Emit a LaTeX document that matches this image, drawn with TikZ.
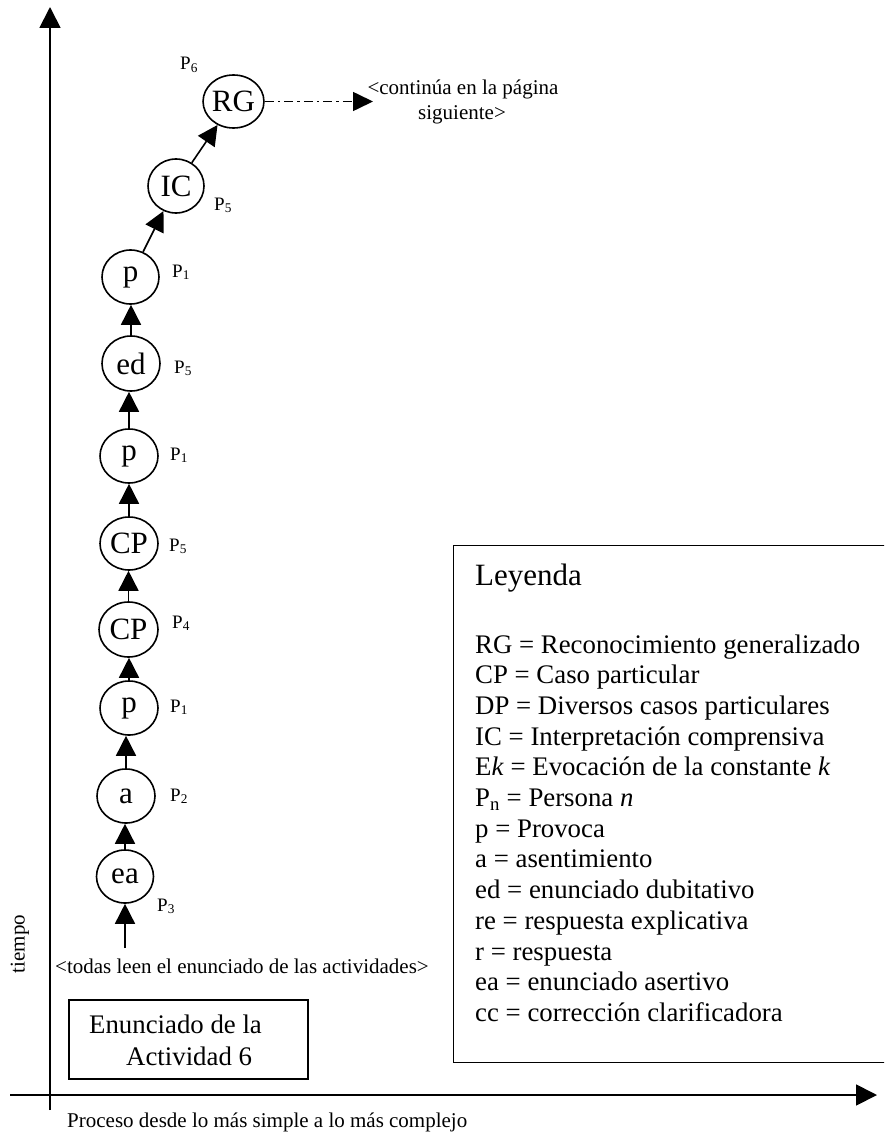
\documentclass[tikz,border=0pt]{standalone}
\usepackage{fontspec}
\setmainfont{Liberation Serif}
\usetikzlibrary{arrows.meta,shapes.geometric}
\begin{document}
\begin{tikzpicture}[x=1pt,y=-1pt,
  state/.style={ellipse,draw,line width=1.6pt,inner sep=0pt,
    minimum width=58pt,minimum height=54pt,font=\fontsize{31}{31}\selectfont},
  plabel/.style={anchor=base west,inner sep=0pt,font=\fontsize{19}{19}\selectfont},
  flow/.style={line width=1.6pt,-{Triangle[length=20pt,width=20pt]}},
  axisline/.style={line width=1.8pt,-{Triangle[length=21pt,width=21pt]}},
  note/.style={anchor=base,inner sep=0pt,font=\fontsize{21}{25}\selectfont},
  legitem/.style={anchor=base west,inner sep=0pt,font=\fontsize{26.8}{30}\selectfont},
  boxtext/.style={anchor=base west,inner sep=0pt,font=\fontsize{26.8}{30}\selectfont},
]
\useasboundingbox (0,0) rectangle (884,1137);
\clip (0,0) rectangle (884,1137);

% axes
\coordinate (yfoot) at (50,1110);
\coordinate (ytop) at (50,7);
\coordinate (xleft) at (10,1095);
\coordinate (xright) at (877,1095);
\draw[axisline] (yfoot) -- (ytop);
\draw[axisline] (xleft) -- (xright);
\node[note,anchor=center,rotate=90] (tiempo) at (20,944) {tiempo};
\node[note,anchor=base west] (proceso) at (67,1127) {Proceso desde lo más simple a lo más complejo};

% chain of interventions
\node[state,minimum width=57pt,minimum height=53pt] (ea) at (125,876.5) {ea};
\node[state] (a)   at (126,796) {a};
\node[state] (p3)  at (129,708) {p};
\node[state,minimum width=59pt,minimum height=55pt] (cp4) at (128.5,629.5) {CP};
\node[state,minimum height=53pt] (cp5) at (129,543.5) {CP};
\node[state] (p6)  at (129,456) {p};
\node[state,minimum height=55pt] (ed)  at (131,363.5) {ed};
\node[state,minimum width=57pt] (p7)  at (130.5,277) {p};
\node[state,minimum width=56pt] (ic)  at (176,186) {IC};
\node[state,minimum width=59pt,minimum height=53pt] (rg) at (233.5,101.5) {RG};

% speakers
\node[plabel] (s3)  at (157,911) {P\textsubscript{3}};
\node[plabel] (s2)  at (170,801) {P\textsubscript{2}};
\node[plabel] (s1a) at (170,712) {P\textsubscript{1}};
\node[plabel] (s4)  at (172,628) {P\textsubscript{4}};
\node[plabel] (s5a) at (169,551) {P\textsubscript{5}};
\node[plabel] (s1b) at (170,460) {P\textsubscript{1}};
\node[plabel] (s5b) at (174,373) {P\textsubscript{5}};
\node[plabel] (s1c) at (172,277) {P\textsubscript{1}};
\node[plabel] (s5c) at (214,210) {P\textsubscript{5}};
\node[plabel] (s6)  at (180,70)  {P\textsubscript{6}};

% connectors
\coordinate (start) at (125,948);
\draw[flow] (start) -- (ea.south);
\draw[flow] (ea.north) -- (ea.north |- a.south);
\draw[flow] (a.north) -- (a.north |- p3.south);
\draw[flow] (p3.north) -- (p3.north |- cp4.south);
\draw[flow] (cp4.north) -- (cp4.north |- cp5.south);
\draw[flow] (cp5.north) -- (cp5.north |- p6.south);
\draw[flow] (p6.north) -- (p6.north |- ed.south);
\draw[flow] (ed.north) -- (ed.north |- p7.south);
\draw[flow] (p7) -- (ic);
\draw[flow] (ic) -- (rg);
\coordinate (cont) at (373,101.5);
\draw[line width=1.6pt,dash pattern=on 9pt off 4pt on 2.5pt off 4pt,
  -{Triangle[length=20pt,width=19pt]}] (rg.east) -- (cont);
\node[note] (contA) at (463,95) {<continúa en la página};
\node[note] (contB) at (462,120) {siguiente>};

\node[note,anchor=base west] (todas) at (55,973) {<todas leen el enunciado de las actividades>};

% activity box
\node[draw,line width=1.8pt,anchor=north west,inner sep=0pt,
  minimum width=239pt,minimum height=79pt] (enun) at (68,999) {};
\node[boxtext] (enunA) at (89,1033) {Enunciado de la};
\node[boxtext] (enunB) at (126,1065) {Actividad 6};

% legend
\node[draw,line width=1.4pt,anchor=north west,inner sep=0pt,
  minimum width=445pt,minimum height=517pt] (legend) at (453,545) {};
\node[anchor=base west,inner sep=0pt,font=\fontsize{31}{31}\selectfont] (legtitle) at (475,585) {Leyenda};
\foreach \i/\t in {0/{RG = Reconocimiento generalizado},
                   1/{CP = Caso particular},
                   2/{DP = Diversos casos particulares},
                   3/{IC = Interpretación comprensiva},
                   4/{E\textit{k} = Evocación de la constante \textit{k}},
                   5/{P\textsubscript{n} = Persona \textit{n}},
                   6/{p = Provoca},
                   7/{a = asentimiento},
                   8/{ed = enunciado dubitativo},
                   9/{re = respuesta explicativa},
                   10/{r = respuesta},
                   11/{ea = enunciado asertivo},
                   12/{cc = corrección clarificadora}}
  \node[legitem] (leg\i) at (475,{653+30.7*\i}) {\t};
\end{tikzpicture}
\end{document}
